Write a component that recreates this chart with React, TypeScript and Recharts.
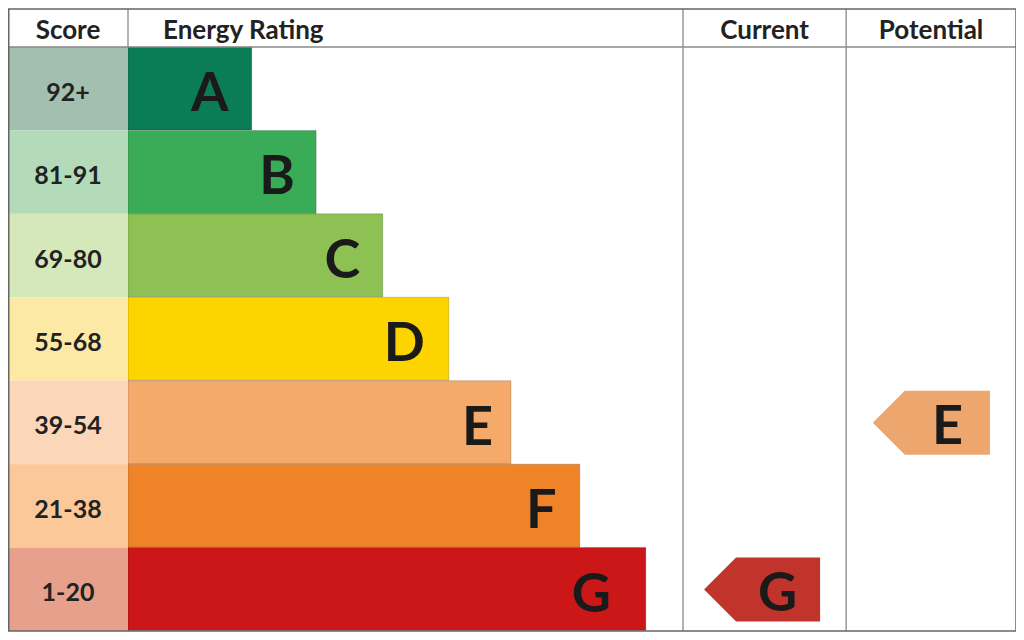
import React from "react";
import { BarChart, Bar, XAxis, YAxis, LabelList, Cell } from "recharts";

// ---------- data ----------
const ratings = ["A", "B", "C", "D", "E", "F", "G"];
const scoreLabels = ["92+", "81-91", "69-80", "55-68", "39-54", "21-38", "1-20"];
// bar length in % of the "Energy Rating" column width
const barLengths = [22.3, 33.9, 45.9, 57.8, 69.0, 81.4, 93.3];
const barColors = ["#0b7d56", "#3aab57", "#8dc153", "#fdd400", "#f5aa6c", "#ee8327", "#cc1718"];
const scoreColors = ["#a2bfaf", "#b3dab9", "#d5e8b9", "#fde9a6", "#fbd6b9", "#fbc899", "#e6a08b"];
const headers = ["Score", "Energy Rating", "Current", "Potential"];
const currentRating = "G";
const currentRange: [number, number] = [103.8, 124.7];
const potentialRating = "E";
const potentialRange: [number, number] = [134.2, 155.3];
const currentColor = "#c1342b";
const potentialColor = "#eda66d";
const columnBounds = [100, 129.4]; // Current / Potential column starts (domain units)
const xDomain: [number, number] = [0, 160];

// ---------- layout / style ----------
const W = 1016;
const H = 632;
const M = { top: 39, right: 8, bottom: 9, left: 0 };
const SCORE_W = 120;
const plotL = M.left + SCORE_W;
const plotR = W - M.right;
const plotT = M.top;
const plotB = H - M.bottom;
const band = (plotB - plotT) / ratings.length;
const xToPx = (v: number) => plotL + ((v - xDomain[0]) / (xDomain[1] - xDomain[0])) * (plotR - plotL);
const FONT = "Lato, 'Open Sans', 'Noto Sans', sans-serif";
const LETTER = 54;
const letterCenterInsets = [42, 39, 40.5, 44.5, 33.5, 38.5, 54.5]; // px from bar end to letter centre
const arrowLetterInset = 42.5;

const data = ratings.map((r, i) => ({
  rating: r,
  score: scoreLabels[i],
  value: barLengths[i],
  current: r === currentRating ? currentRange : null,
  potential: r === potentialRating ? potentialRange : null,
}));

const ScoreTick = (props: any) => {
  const { y, payload } = props;
  const i = ratings.indexOf(payload.value);
  return (
    <g>
      <rect x={M.left} y={y - band / 2} width={SCORE_W} height={band} fill={scoreColors[i]} />
      <text
        x={M.left + SCORE_W / 2}
        y={y + 12}
        textAnchor="middle"
        fontFamily={FONT}
        fontWeight={700}
        fontSize={25}
        fill="#222"
      >
        {scoreLabels[i]}
      </text>
    </g>
  );
};

const makeArrow = (key: "current" | "potential", color: string) => (props: any) => {
  const { x, y, width, height, payload } = props;
  if (!payload || !payload[key] || !isFinite(x) || !isFinite(width)) return <g />;
  const h2 = height / 2;
  const pts = [
    [x, y + h2],
    [x + h2, y],
    [x + width, y],
    [x + width, y + height],
    [x + h2, y + height],
  ]
    .map((p) => p.join(","))
    .join(" ");
  return (
    <g>
      <polygon points={pts} fill={color} />
      <text
        x={x + width - arrowLetterInset}
        y={y + h2 + LETTER * 0.36 + 2}
        textAnchor="middle"
        fontFamily={FONT}
        fontWeight={700}
        fontSize={LETTER}
        fill="#1a1a1a"
      >
        {payload.rating}
      </text>
    </g>
  );
};

const CurrentArrow = makeArrow("current", currentColor);
const PotentialArrow = makeArrow("potential", potentialColor);

const RatingLetter = (p: any) => {
  const { x, y, width, height, value } = p;
  const i = ratings.indexOf(value);
  return (
    <text
      x={x + width - (letterCenterInsets[i] ?? 40)}
      y={y + height / 2 + LETTER * 0.36 + 3}
      textAnchor="middle"
      fontFamily={FONT}
      fontWeight={700}
      fontSize={LETTER}
      fill="#1a1a1a"
    >
      {value}
    </text>
  );
};

export default function App() {
  const curX = xToPx(columnBounds[0]);
  const potX = xToPx(columnBounds[1]);
  const lineC = "#8a8a8a";
  return (
    <div style={{ position: "relative", width: W, height: H }}>
      <BarChart
        width={W}
        height={H}
        data={data}
        layout="vertical"
        margin={M}
        barCategoryGap={0}
        barGap={0}
      >
        <XAxis type="number" domain={xDomain} hide allowDataOverflow />
        <YAxis
          yAxisId="main"
          type="category"
          dataKey="rating"
          width={SCORE_W}
          axisLine={false}
          tickLine={false}
          tick={<ScoreTick />}
          interval={0}
        />
        <YAxis yAxisId="cur" type="category" dataKey="rating" hide />
        <YAxis yAxisId="pot" type="category" dataKey="rating" hide />
        <Bar yAxisId="main" dataKey="value" isAnimationActive={false} stroke="rgba(0,0,0,0.18)" strokeWidth={1}>
          {data.map((d, i) => (
            <Cell key={d.rating} fill={barColors[i]} />
          ))}
          <LabelList dataKey="rating" content={<RatingLetter />} />
        </Bar>
        <Bar yAxisId="cur" dataKey="current" barSize={64} isAnimationActive={false} shape={<CurrentArrow />} />
        <Bar yAxisId="pot" dataKey="potential" barSize={64} isAnimationActive={false} shape={<PotentialArrow />} />
      </BarChart>
      <svg
        width={W}
        height={H}
        style={{ position: "absolute", left: 0, top: 0, pointerEvents: "none" }}
      >
        <line x1={0} x2={plotR} y1={plotT} y2={plotT} stroke={lineC} strokeWidth={1.3} />
        <line x1={plotL} x2={plotL} y1={1} y2={plotT} stroke={lineC} strokeWidth={1.3} />
        <line x1={curX} x2={curX} y1={1} y2={plotB} stroke={lineC} strokeWidth={1.3} />
        <line x1={potX} x2={potX} y1={1} y2={plotB} stroke={lineC} strokeWidth={1.3} />
        <rect x={0.75} y={1} width={plotR - 0.75} height={plotB - 1} fill="none" stroke="#666" strokeWidth={1.5} />
        <g fontFamily={FONT} fontWeight={700} fontSize={26} fill="#222">
          <text x={SCORE_W / 2} y={31} textAnchor="middle">{headers[0]}</text>
          <text x={plotL + 35} y={31} textAnchor="start">{headers[1]}</text>
          <text x={(curX + potX) / 2} y={31} textAnchor="middle">{headers[2]}</text>
          <text x={(potX + plotR) / 2} y={31} textAnchor="middle">{headers[3]}</text>
        </g>
      </svg>
    </div>
  );
}
